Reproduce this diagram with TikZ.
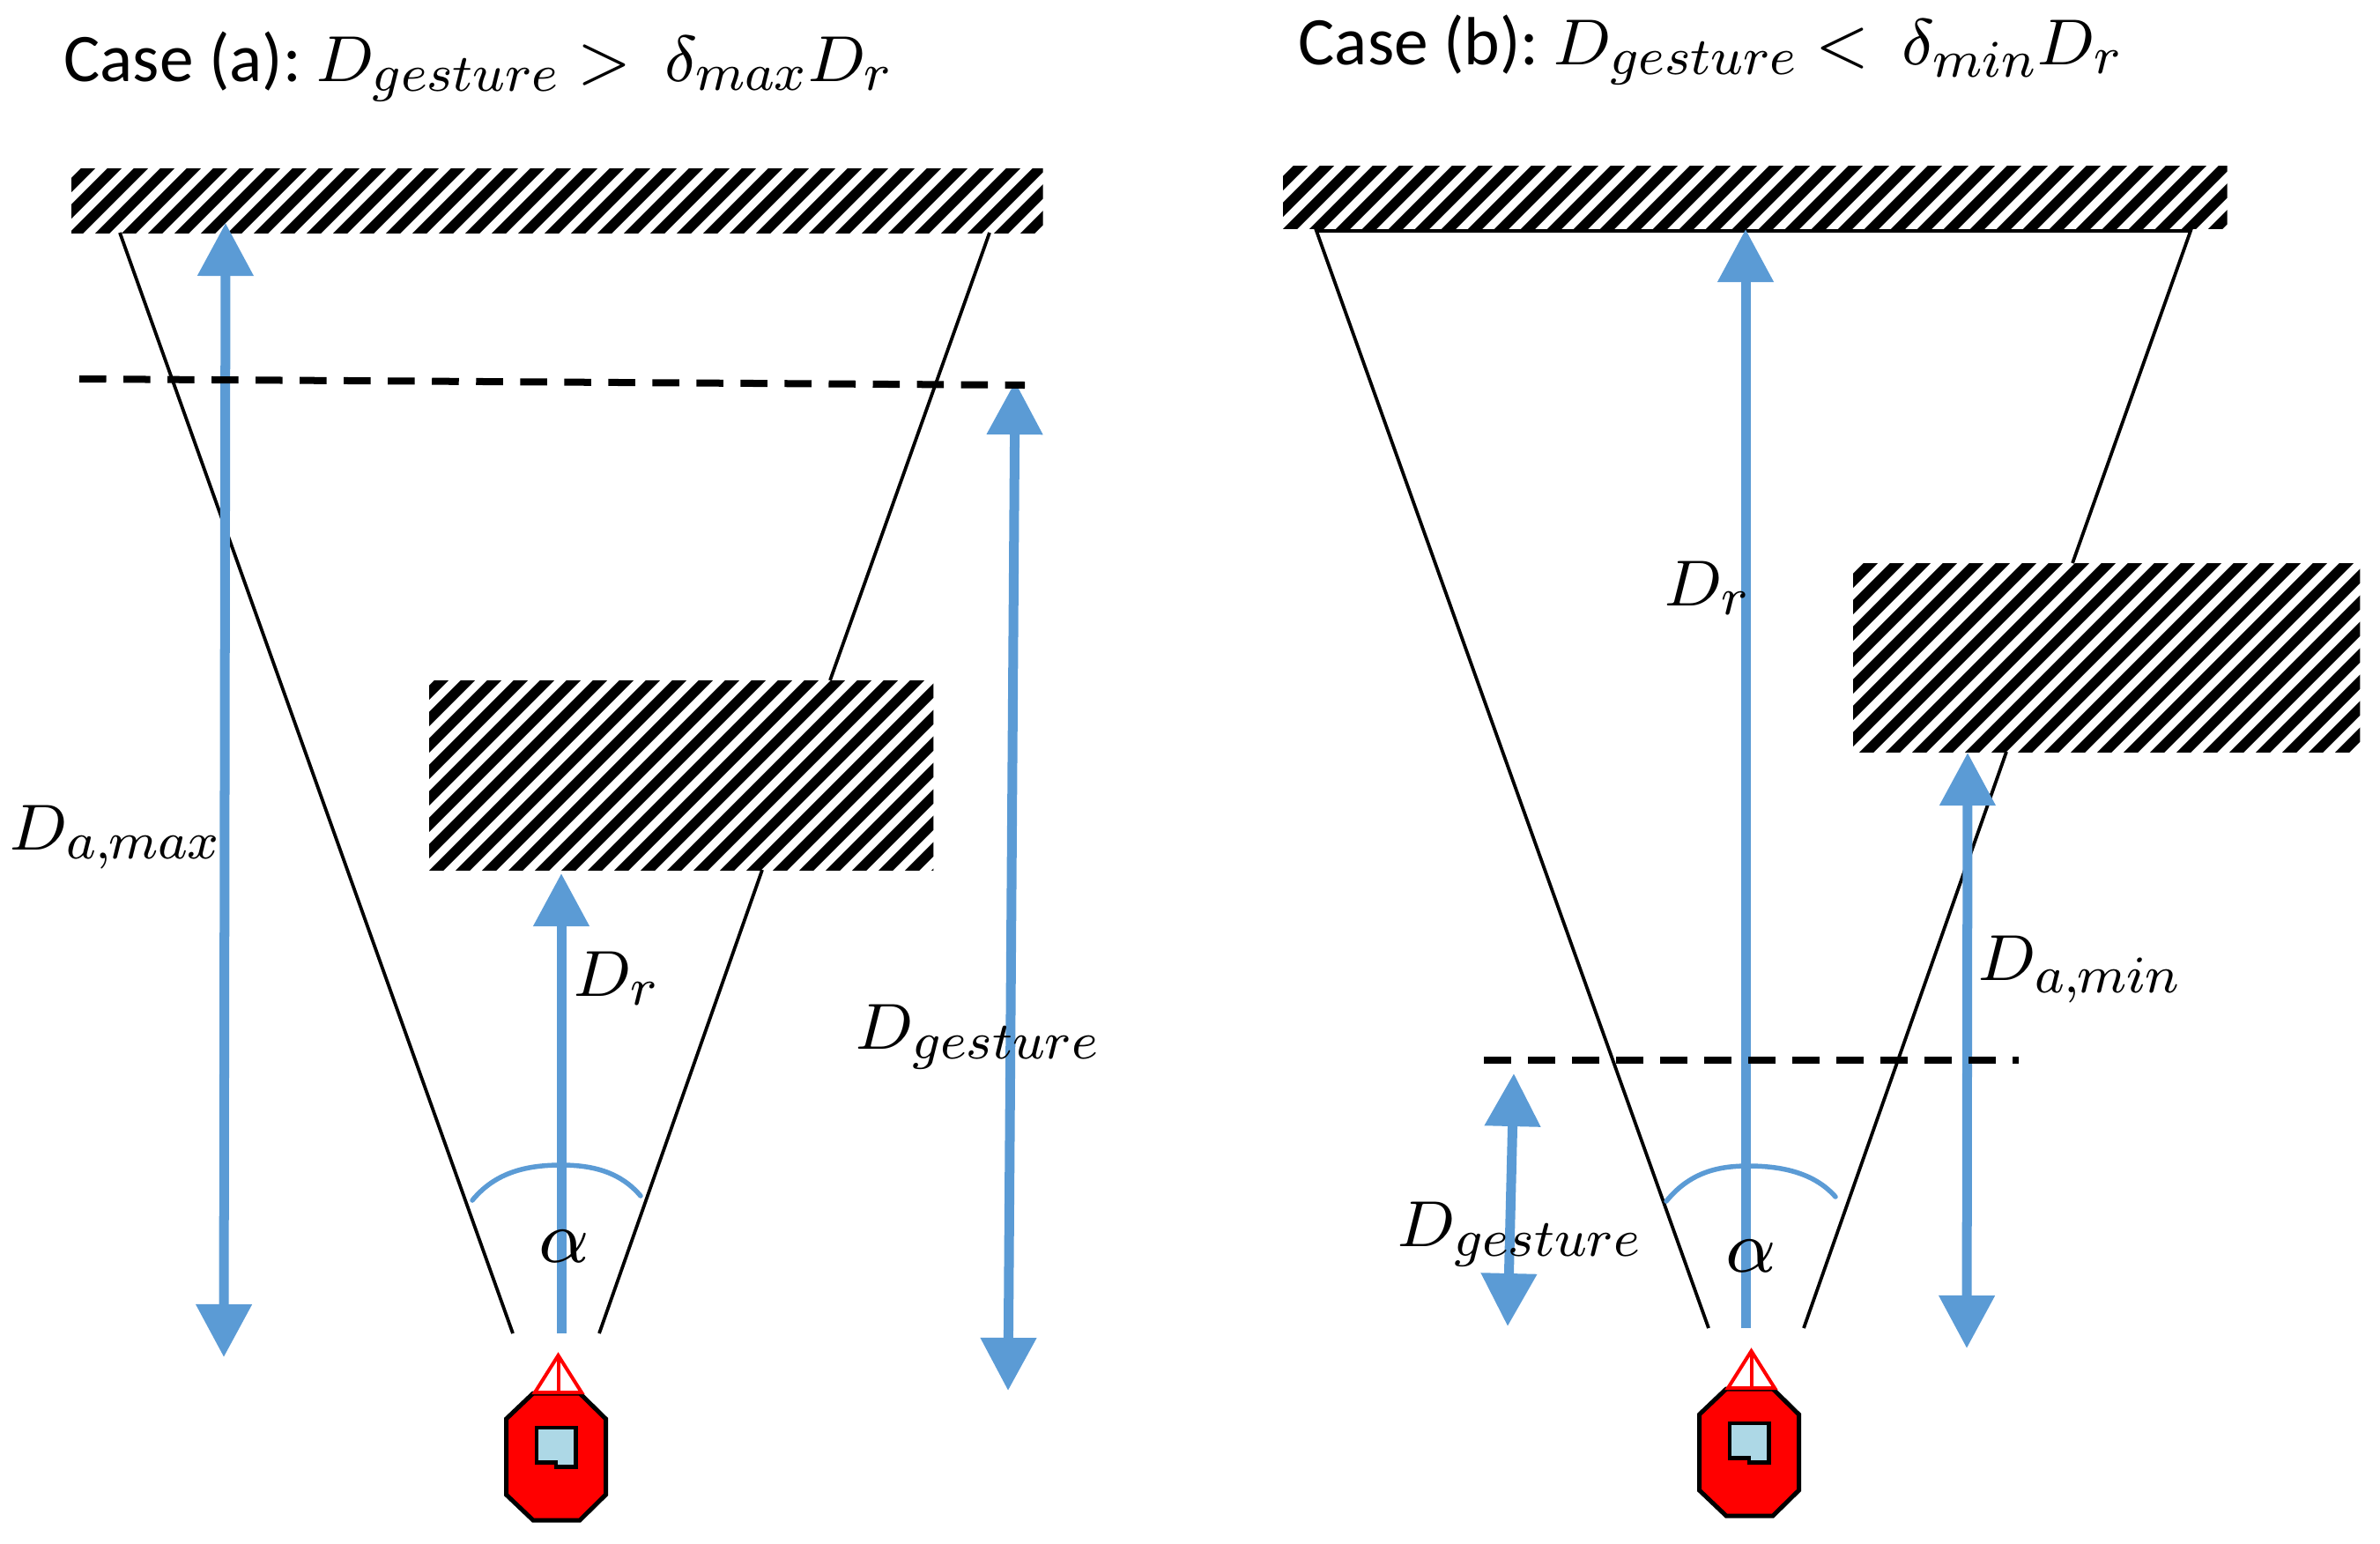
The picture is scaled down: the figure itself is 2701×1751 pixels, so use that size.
\documentclass[tikz,border=0pt]{standalone}
\usepackage{amsmath}
\usepackage{fontspec}
\newfontfamily\casefont{Carlito}
\DeclareFontFamily{OML}{distmm}{\skewchar\font=127}
\DeclareFontShape{OML}{distmm}{m}{it}{<->cmmi8}{}
\DeclareSymbolFont{letters}{OML}{distmm}{m}{it}
\DeclareMathSizes{21}{21}{17}{14}
\DeclareMathSizes{22}{21}{17}{14}
\DeclareMathSizes{24}{24}{17}{14}
\usepackage{tikz}
\usetikzlibrary{arrows.meta}
\definecolor{distblue}{HTML}{5B9BD5}
\definecolor{glass}{HTML}{ADD8E6}

% stripes x+y=const, clipped to the obstacle node
\newcommand{\hatchbox}[2]{
  \begin{scope}
    \clip (#1.north west) rectangle (#1.south east);
    \foreach \k in {#2,\the\numexpr#2+30\relax,...,4470}
      \draw[line width=1.15mm] (\k,0) -- (0,\k);
  \end{scope}
}

\begin{document}
\begin{tikzpicture}[
    x=0.01cm, y=-0.01cm,
    obstacle/.style={rectangle, anchor=north west, inner sep=0pt, outer sep=0pt},
    cone/.style={line width=0.38mm, black},
    dist/.style={line width=1.1mm, distblue, -{Triangle[width=6.1mm, length=6mm]}},
    distboth/.style={line width=1.1mm, distblue, {Triangle[width=6.1mm, length=6mm]}-{Triangle[width=6.1mm, length=6mm]}},
    limit/.style={line width=0.8mm, black, dash pattern=on 3.05mm off 1.95mm},
    fov/.style={line width=0.55mm, distblue, line cap=round},
    label/.style={anchor=base west, inner sep=0pt, font=\fontsize{21}{25}\selectfont},
    greek/.style={inner sep=0pt, font=\fontsize{24}{28}\selectfont},
    title/.style={anchor=base west, inner sep=0pt, font=\casefont\fontsize{22}{25}\selectfont},
    robot/.pic={
        \draw[line width=0.5mm, fill=red] (-26,-69) -- (27,-69) -- (56.5,-40) -- (56.5,46)
            -- (27,75) -- (-26,75) -- (-56.5,46) -- (-56.5,-40) -- cycle;
        \draw[line width=0.45mm, fill=glass] (-22,-30) -- (22.5,-30) -- (22.5,14.5) -- (0,14.5)
            -- (0,9.5) -- (-22,9.5) -- cycle;
        \draw[line width=0.4mm, red, fill=white] (2.5,-112) -- (29,-70) -- (-24,-70) -- cycle;
        \draw[line width=0.4mm, red] (2.5,-112) -- (2.5,-69);
    }
]
\useasboundingbox (0,0) rectangle (2701,1751);

% Titles
\node[title] (title_a) at (72,92) {Case (a):\,\kern1pt$D_{gesture} > \ \delta_{max}D_r$};
\node[title] (title_b) at (1473,73) {Case (b):\,\kern1pt$D_{gesture} < \ \delta_{min}D_r$};

% Obstacles case a
\node[obstacle, minimum width=11.02cm, minimum height=0.73cm] (bar_a) at (81,191) {};
\node[obstacle, minimum width=5.72cm, minimum height=2.15cm] (block_a) at (487,772) {};
\hatchbox{bar_a}{21}
\hatchbox{block_a}{13}

% Obstacles case b
\node[obstacle, minimum width=10.71cm, minimum height=0.71cm] (bar_b) at (1456,188) {};
\node[obstacle, minimum width=5.75cm, minimum height=2.14cm] (block_b) at (2103,639) {};
\hatchbox{bar_b}{14}
\hatchbox{block_b}{2}

% Field of view case a
\coordinate (cone_al1) at (136,264);
\coordinate (cone_al2) at (582,1513);
\coordinate (cone_ar1) at (1123,264);
\coordinate (cone_ar2) at (942,772);
\coordinate (cone_ar3) at (865,987);
\coordinate (cone_ar4) at (680,1513);
\draw[cone] (cone_al1) -- (cone_al2);
\draw[cone] (cone_ar1) -- (cone_ar2);
\draw[cone] (cone_ar3) -- (cone_ar4);

% Field of view case b
\coordinate (cone_bl1) at (1494,262);
\coordinate (cone_bl2) at (1939,1507);
\coordinate (cone_br1) at (2486,262);
\coordinate (cone_br2) at (2352,639);
\coordinate (cone_br3) at (2277,853);
\coordinate (cone_br4) at (2047,1507);
\draw[cone] (cone_bl2) -- (cone_bl1) -- (cone_br1) -- (cone_br2);
\draw[cone] (cone_br3) -- (cone_br4);

% Distances case a
\coordinate (amax_top) at (256,253);
\coordinate (amax_bot) at (254,1540);
\coordinate (dr_a_top) at (637,991);
\coordinate (dr_a_bot) at (637,1513);
\coordinate (gest_a_top) at (1152,433);
\coordinate (gest_a_bot) at (1144,1578);
\draw[distboth] (amax_bot) -- (amax_top);
\draw[dist] (dr_a_bot) -- (dr_a_top);
\draw[distboth] (gest_a_bot) -- (gest_a_top);

% Distances case b
\coordinate (dr_b_top) at (1981,260);
\coordinate (dr_b_bot) at (1981,1507);
\coordinate (amin_top) at (2233,854);
\coordinate (amin_bot) at (2232,1530);
\coordinate (gest_b_top) at (1718,1218);
\coordinate (gest_b_bot) at (1711,1505);
\draw[dist] (dr_b_bot) -- (dr_b_top);
\draw[distboth] (amin_bot) -- (amin_top);
\draw[distboth] (gest_b_bot) -- (gest_b_top);

% Dashed limits
\coordinate (limit_a1) at (90,430);
\coordinate (limit_a2) at (1163,437);
\coordinate (limit_b1) at (1684,1203);
\coordinate (limit_b2) at (2291,1203);
\draw[limit] (limit_a1) -- (limit_a2);
\draw[limit] (limit_b1) -- (limit_b2);

% Angle arcs
\coordinate (arc_a1) at (536,1362);
\coordinate (arc_a2) at (637,1322);
\coordinate (arc_a3) at (727,1357);
\coordinate (arc_b1) at (1891,1363);
\coordinate (arc_b2) at (1984,1323);
\coordinate (arc_b3) at (2083,1358);
\draw[fov] (arc_a1) .. controls (563,1329) and (600,1322) .. (arc_a2) .. controls (675,1322) and (705,1331) .. (arc_a3);
\draw[fov] (arc_b1) .. controls (1918,1330) and (1950,1323) .. (arc_b2) .. controls (2025,1323) and (2060,1332) .. (arc_b3);

% Labels
\node[label] (lbl_amax) at (10,964) {$D_{a,\mkern-1mu max}$};
\node[label] (lbl_dr_a) at (650,1130) {$D_r$};
\node[label] (lbl_gest_a) at (970,1190) {$D_{gesture}$};
\node[label] (lbl_dr_b) at (1888,687) {$D_r$};
\node[label] (lbl_amin) at (2244,1112) {$D_{a,\mkern-1mu min}$};
\node[label] (lbl_gest_b) at (1585,1414) {$D_{gesture}$};
\node[greek] (alpha_a) at (640,1414) {$\alpha$};
\node[greek] (alpha_b) at (1987,1425) {$\alpha$};

% Robots
\pic (robot_a) at (631,1650) {robot};
\pic (robot_b) at (1985,1645) {robot};

\end{tikzpicture}
\end{document}
